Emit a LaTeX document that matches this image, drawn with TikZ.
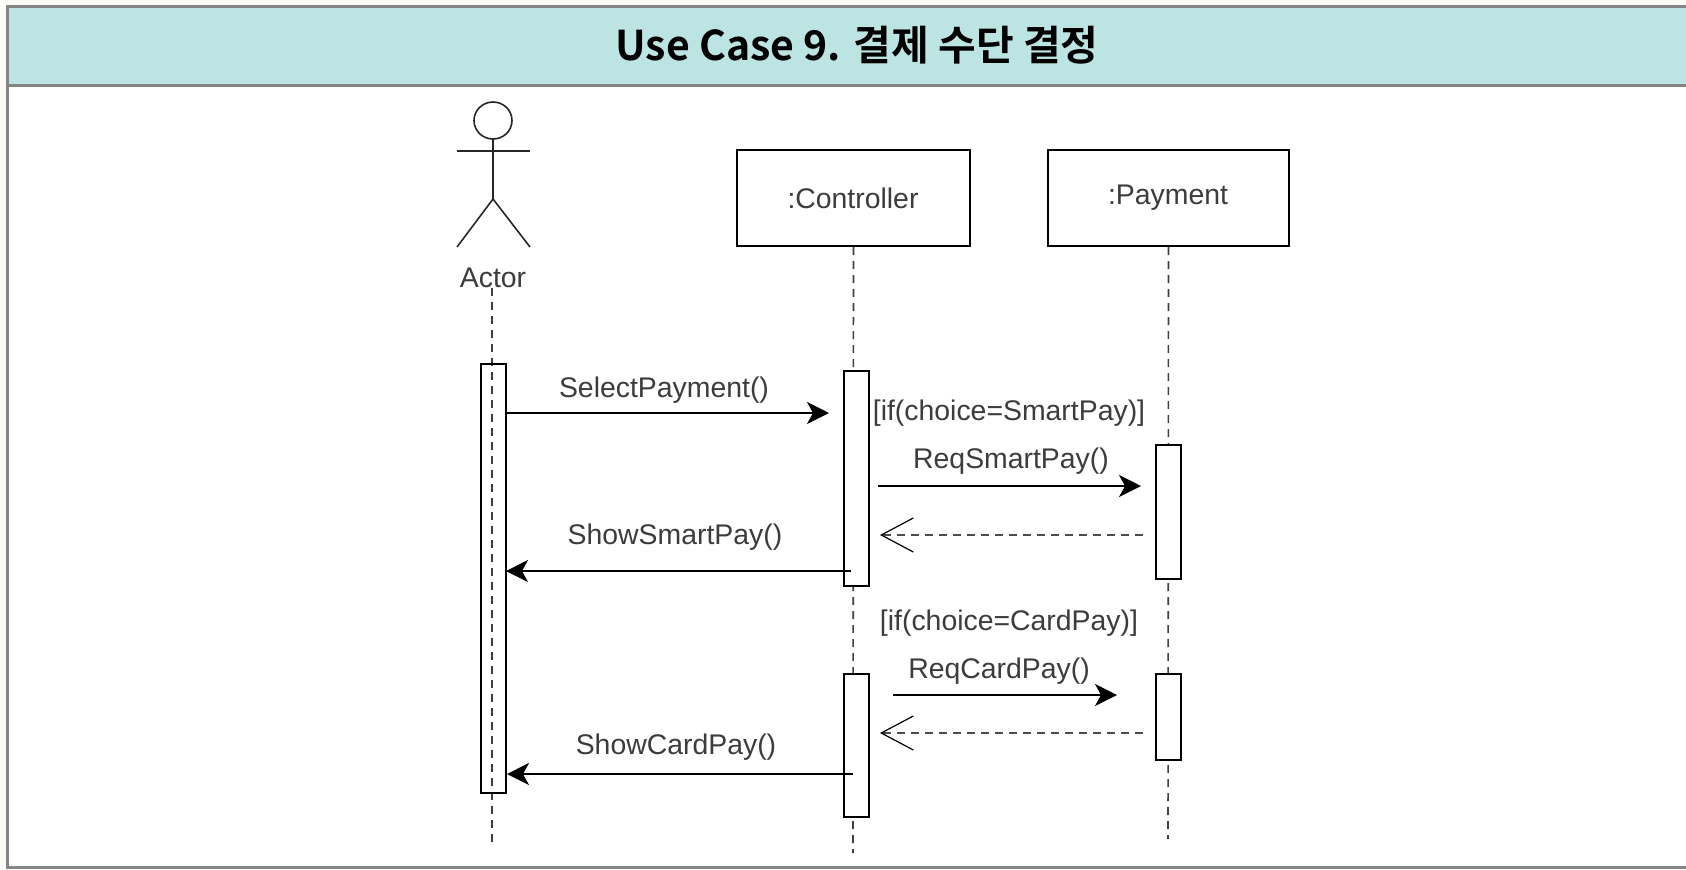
\documentclass[tikz,border=0pt]{standalone}
\usepackage{fontspec}
\setmainfont{Liberation Sans}
\newfontfamily\titlefont{Noto Sans CJK KR}[BoldFont={Noto Sans CJK KR Bold}]
\usepackage{xcolor}
\usepackage{tikz}
\usetikzlibrary{arrows.meta,calc,positioning}
\definecolor{headfill}{HTML}{BCE4E2}
\definecolor{framegray}{HTML}{858585}
\definecolor{papercol}{HTML}{FDFBF6}
\definecolor{labelcol}{HTML}{3C3C3C}
\tikzset{
  lbl/.style={inner sep=0pt,text=labelcol,font=\fontsize{14.2}{16}\selectfont},
  objbox/.style={draw,line width=1pt,fill=white,inner sep=0pt},
  activation/.style={draw,line width=1pt,fill=white,inner sep=0pt,minimum width=12.5pt},
  lifeline/.style={dashed,line width=0.8pt,dash pattern=on 4pt off 3pt,black!75},
  msg/.style={line width=0.8pt,-{Stealth[length=11pt,width=11pt,inset=3pt]}},
  ret/.style={line width=0.7pt,dashed,dash pattern=on 4pt off 3pt,black!70,-{Straight Barb[length=16pt,width=17pt,black,line width=0.6pt]}},
}
\begin{document}
\begin{tikzpicture}[x=0.5pt,y=-0.5pt]
\useasboundingbox (0,0) rectangle (1686,869);
\fill[papercol] (0,0) rectangle (1686,869);
\fill[white] (8,6) rectangle (1686,867);

% header
\node[fill=headfill,minimum width=839pt,minimum height=39.5pt,inner sep=0pt,anchor=north west] (head) at (8,6) {};
\node[inner sep=0pt,font=\titlefont\bfseries\fontsize{20.5}{24}\selectfont] (title) at (857,45) {Use Case 9. 결제 수단 결정};
\draw[framegray,line width=1.5pt] (1686,6) -- (7,6) -- (7,867) -- (1686,867);
\draw[framegray,line width=1.5pt] (7,85) -- (1686,85);

% actor
\draw[line width=0.8pt,black!85] (493,120.5) ellipse (19 and 18.5);
\draw[line width=0.8pt,black!85] (493,139) -- (493,199);
\draw[line width=0.8pt,black!85] (456.5,151) -- (530,151);
\draw[line width=0.8pt,black!85] (457,247) -- (493,199) -- (530,247);
\node[lbl] (actor) at (493,278) {Actor};

% objects
\node[objbox,minimum width=116.5pt,minimum height=48pt] (controller) at (853.5,198) {};
\node[lbl] (controllertxt) at (853,198) {:Controller};
\node[objbox,minimum width=120.5pt,minimum height=48pt] (payment) at (1168.5,198) {};
\node[lbl] (paymenttxt) at (1168,198) {:Payment};

% lifelines
\coordinate (actorend) at (492,842);
\coordinate (controllerend) at (853,853);
\coordinate (paymentend) at (1168,839);
\draw[lifeline] (actor.south -| actorend) -- (actorend);
\draw[lifeline] (controller.south) -- (controllerend);
\draw[lifeline] (payment.south) -- (paymentend);

% activation boxes
\node[activation,fill=none,minimum height=214.5pt] (actbar) at (493,578.5) {};
\node[activation,minimum height=107.5pt] (ctrlbar1) at (856.5,478.5) {};
\node[activation,minimum height=71.5pt] (ctrlbar2) at (856.5,745.5) {};
\node[activation,minimum height=67pt] (paybar1) at (1168.5,512) {};
\node[activation,minimum height=43pt] (paybar2) at (1168.5,717) {};

% messages
\coordinate (m1a) at (506,413);    \coordinate (m1b) at (829,413);
\coordinate (m2a) at (878,486);    \coordinate (m2b) at (1141,486);
\coordinate (m3a) at (1143,535);   \coordinate (m3b) at (880,535);
\coordinate (m4a) at (851,571);    \coordinate (m4b) at (506,571);
\coordinate (m5a) at (893,695);    \coordinate (m5b) at (1117,695);
\coordinate (m6a) at (1143,733);   \coordinate (m6b) at (880,733);
\coordinate (m7a) at (853,774);    \coordinate (m7b) at (507,774);
\draw[msg] (m1a) -- (m1b);
\draw[msg] (m2a) -- (m2b);
\draw[ret] (m3a) -- (m3b);
\draw[msg] (m4a) -- (m4b);
\draw[msg] (m5a) -- (m5b);
\draw[ret] (m6a) -- (m6b);
\draw[msg] (m7a) -- (m7b);

\node[lbl] (selectpay) at (664,390) {SelectPayment()};
\node[lbl] (ifsmart) at (1009,413) {[if(choice=SmartPay)]};
\node[lbl] (reqsmart) at (1011,461) {ReqSmartPay()};
\node[lbl] (showsmart) at (675,537) {ShowSmartPay()};
\node[lbl] (ifcard) at (1009,623) {[if(choice=CardPay)]};
\node[lbl] (reqcard) at (999,671) {ReqCardPay()};
\node[lbl] (showcard) at (676,747) {ShowCardPay()};

\end{tikzpicture}
\end{document}
